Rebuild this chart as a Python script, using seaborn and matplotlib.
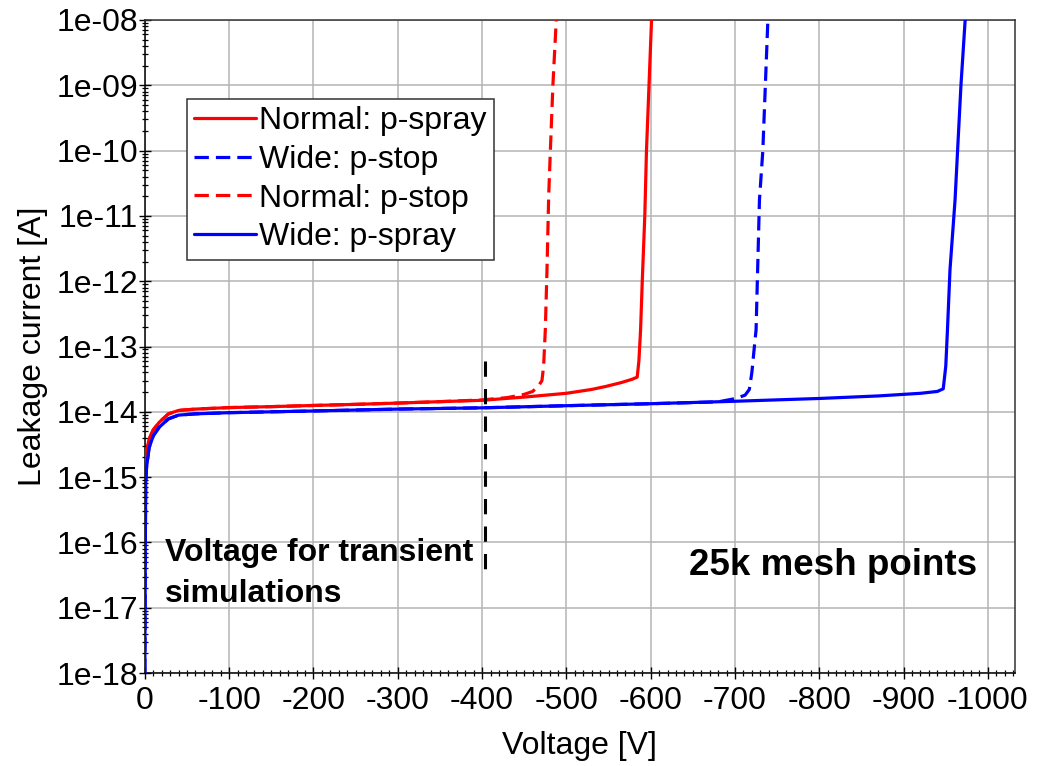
import numpy as np
import pandas as pd
import matplotlib
matplotlib.use("Agg")
import matplotlib.pyplot as plt
import seaborn as sns
from matplotlib.ticker import FixedLocator, MultipleLocator, LogLocator, NullFormatter

# ---------------- data ----------------
red_spray_v = [-0.5, -1, -2, -5, -10, -17, -28, -40, -60, -100, -150, -200, -250, -300, -350,
               -400, -450, -500, -530, -547, -565, -578, -584, -586, -588, -590, -593, -595,
               -598, -601]
red_spray_i = [9e-16, 1.5e-15, 2.5e-15, 3.8e-15, 5.3e-15, 6.9e-15, 9.3e-15, 1.05e-14, 1.1e-14,
               1.16e-14, 1.2e-14, 1.25e-14, 1.3e-14, 1.36e-14, 1.43e-14, 1.5e-14, 1.68e-14,
               1.92e-14, 2.2e-14, 2.45e-14, 2.8e-14, 3.15e-14, 3.4e-14, 6e-14, 1.8e-13, 1e-12,
               1e-11, 1e-10, 1e-9, 1e-8]

red_stop_v = [-0.5, -1, -2, -5, -10, -17, -28, -40, -60, -100, -150, -200, -250, -300, -350,
              -400, -430, -450, -460, -467, -471, -473, -475, -477, -479, -481, -484, -488]
red_stop_i = [9e-16, 1.5e-15, 2.5e-15, 3.8e-15, 5.3e-15, 6.9e-15, 9.3e-15, 1.05e-14, 1.1e-14,
              1.16e-14, 1.2e-14, 1.25e-14, 1.3e-14, 1.36e-14, 1.43e-14, 1.52e-14, 1.65e-14,
              1.85e-14, 2.05e-14, 2.5e-14, 3e-14, 5e-14, 1.8e-13, 1.5e-12, 2e-11, 1e-10, 1e-9,
              1e-8]

blue_spray_v = [0, -0.3, -0.6, -1, -2, -5, -10, -17, -28, -40, -60, -100, -200, -300, -400,
                -500, -600, -700, -800, -870, -920, -940, -947, -950, -952, -955, -961, -964,
                -968, -973]
blue_spray_i = [1e-18, 1e-17, 1e-16, 8e-16, 1.4e-15, 2.8e-15, 4.3e-15, 5.8e-15, 7.8e-15,
                8.9e-15, 9.3e-15, 9.7e-15, 1.03e-14, 1.1e-14, 1.15e-14, 1.24e-14, 1.33e-14,
                1.45e-14, 1.6e-14, 1.75e-14, 1.92e-14, 2.05e-14, 2.25e-14, 5e-14, 1.8e-13,
                1.5e-12, 1.75e-11, 1e-10, 1e-9, 1e-8]

blue_stop_v = [0, -0.3, -0.6, -1, -2, -5, -10, -17, -28, -40, -60, -100, -200, -300, -400,
               -500, -600, -680, -701, -712, -717, -720, -723, -725, -729, -733, -736, -739]
blue_stop_i = [1e-18, 1e-17, 1e-16, 8e-16, 1.4e-15, 2.8e-15, 4.3e-15, 5.8e-15, 7.8e-15,
               8.9e-15, 9.3e-15, 9.7e-15, 1.03e-14, 1.1e-14, 1.15e-14, 1.24e-14, 1.33e-14,
               1.42e-14, 1.6e-14, 1.8e-14, 2.2e-14, 4e-14, 1e-13, 1.8e-13, 1.75e-11, 1e-10,
               1e-9, 1e-8]

transient_v = [-404, -404]
transient_i = [6e-14, 3.5e-17]

series_labels = ["Normal: p-spray", "Wide: p-stop", "Normal: p-stop", "Wide: p-spray"]

xtick_values = [0, -100, -200, -300, -400, -500, -600, -700, -800, -900, -1000]
xtick_labels = ["0", "-100", "-200", "-300", "-400", "-500", "-600", "-700", "-800", "-900", "-1000"]
ytick_values = [1e-18, 1e-17, 1e-16, 1e-15, 1e-14, 1e-13, 1e-12, 1e-11, 1e-10, 1e-09, 1e-08]
ytick_labels = ["1e-18", "1e-17", "1e-16", "1e-15", "1e-14", "1e-13", "1e-12", "1e-11",
                "1e-10", "1e-09", "1e-08"]

# ---------------- style ----------------
sns.set_theme(style="white")
plt.rcParams['font.family'] = ['Liberation Sans', 'DejaVu Sans']
plt.rcParams['text.color'] = 'black'
plt.rcParams['axes.labelcolor'] = 'black'

fig = plt.figure(figsize=(10.42, 7.66), dpi=100)
ax = fig.add_axes([0.139, 0.1214, 0.835, 0.8525])

RED = "#ff0000"
BLUE = "#0000ff"
LW = 2.3
DASH = (0, (4.5, 2.2))

sns.lineplot(x=red_spray_v, y=red_spray_i, ax=ax, color=RED, linewidth=LW,
             sort=False, estimator=None, label=series_labels[0], zorder=3)
sns.lineplot(x=blue_stop_v, y=blue_stop_i, ax=ax, color=BLUE, linewidth=LW, linestyle=DASH,
             sort=False, estimator=None, label=series_labels[1], zorder=3)
sns.lineplot(x=red_stop_v, y=red_stop_i, ax=ax, color=RED, linewidth=LW, linestyle=DASH,
             sort=False, estimator=None, label=series_labels[2], zorder=3)
sns.lineplot(x=blue_spray_v, y=blue_spray_i, ax=ax, color=BLUE, linewidth=LW,
             sort=False, estimator=None, label=series_labels[3], zorder=3)

ax.plot(transient_v, transient_i, color="black", linewidth=2.2, linestyle=(0, (5, 4)), zorder=3)

ax.set_yscale("log")
ax.set_ylim(1e-18, 1e-8)
ax.set_xlim(0, -1032)

ax.xaxis.set_major_locator(FixedLocator(xtick_values))
ax.set_xticklabels(xtick_labels)
ax.xaxis.set_minor_locator(MultipleLocator(10))
ax.yaxis.set_major_locator(FixedLocator(ytick_values))
ax.set_yticklabels(ytick_labels)
ax.yaxis.set_minor_locator(LogLocator(base=10, subs=np.arange(2, 10), numticks=100))
ax.yaxis.set_minor_formatter(NullFormatter())

ax.tick_params(axis="both", which="major", direction="inout", length=8, width=1.0,
               color="black", labelsize=23, labelcolor="black",
               bottom=True, left=True, top=False, right=False)
ax.tick_params(axis="x", which="major", pad=5.5)
ax.tick_params(axis="y", which="major", pad=1)
ax.tick_params(axis="both", which="minor", direction="inout", length=5, width=0.9,
               color="black", bottom=True, left=True, top=False, right=False)

ax.grid(True, which="major", color="#b4b4b4", linewidth=1.1)
ax.set_axisbelow(True)
for side, sp in ax.spines.items():
    sp.set_visible(True)
    sp.set_color("#333333")
    sp.set_linewidth(1.1)
ax.spines["left"].set_color("black")
ax.spines["bottom"].set_color("black")

ax.set_xlabel("Voltage [V]", fontsize=23, color="black", labelpad=11)
ax.set_ylabel("Leakage current [A]", fontsize=23, color="black", labelpad=6)

leg = ax.legend(loc="upper left", bbox_to_anchor=(0.048, 0.879), borderaxespad=0,
                fontsize=23, frameon=True, fancybox=False, edgecolor="#333333",
                framealpha=1, borderpad=0.23, handlelength=1.95, handletextpad=0.1,
                labelspacing=0.27)
leg.get_frame().set_linewidth(1.1)
for t in leg.get_texts():
    t.set_color("black")

ax.text(0.023, 0.171, "Voltage for transient", transform=ax.transAxes, fontsize=23,
        fontweight="bold", color="black", ha="left", va="baseline")
ax.text(0.023, 0.109, "simulations", transform=ax.transAxes, fontsize=23,
        fontweight="bold", color="black", ha="left", va="baseline")
ax.text(0.625, 0.150, "25k mesh points", transform=ax.transAxes, fontsize=26.5,
        fontweight="bold", color="black", ha="left", va="baseline")

fig.savefig("out.png", dpi=100)
